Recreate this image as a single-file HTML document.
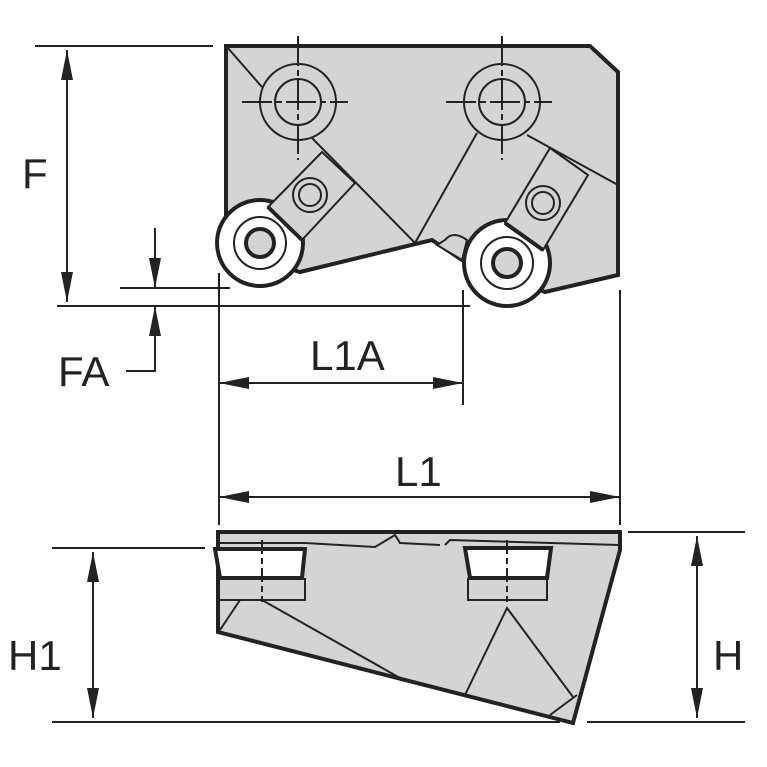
<!DOCTYPE html>
<html><head><style>body{margin:0;background:#fff}svg{display:block}text{font-family:"Liberation Sans",sans-serif;font-size:42px;fill:#222}</style></head><body>
<svg width="767" height="767" viewBox="0 0 767 767" xmlns="http://www.w3.org/2000/svg">
<defs><marker id="a" markerWidth="30" markerHeight="12" refX="30" refY="6" orient="auto-start-reverse" markerUnits="userSpaceOnUse"><path d="M0,0 L30,6 L0,12Z" fill="#222"/></marker></defs>
<g stroke="#222" fill="none" stroke-width="2">
<!-- top view body -->
<path d="M226,46 L590,46 L618,72 L618,275 L545,292 L462,260 L432,240 L300,272 L226,250 Z" fill="#d4d4d4" stroke-width="4"/>
<path d="M227,47 L262,87 M312,138 L415,243 L477,133 M527,135 L618,185"/>
<circle cx="298" cy="102" r="38"/><circle cx="298" cy="102" r="23"/>
<circle cx="502" cy="102" r="38"/><circle cx="502" cy="102" r="23"/>
<path d="M298,36 V160 M242,102 H348 M502,36 V160 M446,102 H552" stroke-dasharray="30,4,6,4"/>
<path d="M445,240 q8,-10 22,0 l-5,20 l-25,-15Z" fill="#d4d4d4"/>
<circle cx="260" cy="243" r="43" fill="#fff" stroke-width="4"/>
<circle cx="260" cy="243" r="26"/><circle cx="260" cy="243" r="14" stroke-width="4" fill="#d4d4d4"/>
<circle cx="507" cy="263" r="43" fill="#fff" stroke-width="4"/>
<circle cx="507" cy="263" r="26"/><circle cx="507" cy="263" r="14" stroke-width="4" fill="#d4d4d4"/>
<path d="M268,207 L322,152 L355,183 L302,240 Z" fill="#d4d4d4"/>
<path d="M268,207 L302,240" stroke-width="4"/>
<circle cx="310" cy="195" r="17"/><circle cx="310" cy="195" r="11"/>
<path d="M550,148 L588,175 L543,250 L505,223 Z" fill="#d4d4d4"/>
<path d="M505,223 L543,250" stroke-width="4"/>
<circle cx="543" cy="203" r="17"/><circle cx="543" cy="203" r="11"/>
<!-- dims top -->
<path d="M35,46 H213 M57,306 H470 M120,288 H230"/>
<path d="M67,50 V302" marker-start="url(#a)" marker-end="url(#a)"/>
<path d="M155,228 V288" marker-end="url(#a)"/>
<path d="M155,306 V371 H126" marker-start="url(#a)"/>
<path d="M219,273 V525 M463,290 V405 M620,290 V525"/>
<path d="M219,383 H463" marker-start="url(#a)" marker-end="url(#a)"/>
<path d="M219,497 H620" marker-start="url(#a)" marker-end="url(#a)"/>
<!-- bottom view -->
<path d="M218,532 H620 V550 L573,723 L218,632 Z" fill="#d4d4d4" stroke-width="4"/>
<path d="M218,543 L305,543 L375,547 L395,535 L400,543 L440,545 M445,545 L450,540 L620,545" />
<path d="M215,549 H305 L302,578 H220 Z" fill="#fff" stroke-width="4"/>
<path d="M218,578 V600 H305 V578"/>
<path d="M465,548 H551 L547,578 H470 Z" fill="#fff" stroke-width="4"/>
<path d="M468,578 V600 H547 V578"/>
<path d="M262,540 V602 M507,540 V602" stroke-dasharray="14,4,6,4"/>
<path d="M262,600 L400,678 M220,630 L240,600 M465,695 L507,608 L573,697 M550,715 L577,695"/>
<path d="M52,548 H205 M52,722 H560 M628,532 H745 M587,722 H745"/>
<path d="M93,552 V718" marker-start="url(#a)" marker-end="url(#a)"/>
<path d="M697,536 V718" marker-start="url(#a)" marker-end="url(#a)"/>
</g>
<text x="22" y="188">F</text>
<text x="58" y="386">FA</text>
<text x="310" y="370">L1A</text>
<text x="395" y="486">L1</text>
<text x="8" y="670">H1</text>
<text x="713" y="670">H</text>
</svg>
</body></html>
